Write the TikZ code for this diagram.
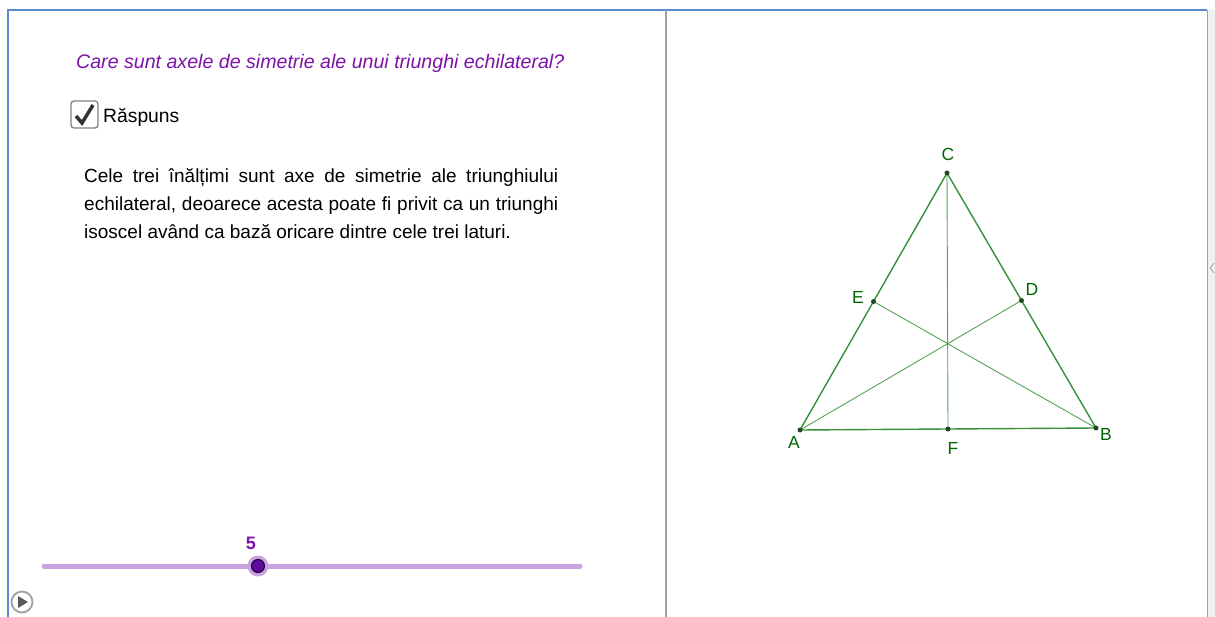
\documentclass[tikz,border=0pt]{standalone}
\usepackage{fontspec}
\setmainfont{Liberation Sans}
\usepackage{xcolor}
\usetikzlibrary{calc}
\definecolor{GGPurple}{HTML}{7D12A8}
\definecolor{GGSlider}{HTML}{C9A3DF}
\definecolor{GGKnob}{HTML}{5E0A9E}
\definecolor{GGGreen}{HTML}{006400}
\definecolor{GGLine}{HTML}{3A8F3A}
\definecolor{GGPoint}{HTML}{1E4A1E}
\definecolor{GGBlue}{HTML}{5A8AD2}
\definecolor{GGGray}{HTML}{A0A0A0}
\definecolor{GGPanel}{HTML}{F0F0F0}

\begin{document}
\begin{tikzpicture}[x=1pt,y=-1pt,
  ptlabel/.style={text=GGGreen,inner sep=0pt,font=\fontsize{17.5}{17.5}\selectfont},
  gpoint/.style={circle,fill=GGPoint,inner sep=0pt,minimum size=5pt}]
\path[use as bounding box] (0,0) rectangle (1215,617);
\fill[white] (0,0) rectangle (1215,617);
% right strip and frame
\fill[GGPanel] (1207,10) rectangle (1215,617);
\draw[GGGray,line width=1pt] (1207,10) -- (1207,617);
\draw[GGGray,line width=.8pt] (1214,263) -- (1210,268) -- (1214,273);
\draw[GGBlue,line width=2pt] (8,617) -- (8,10) -- (1207,10);
\draw[GGGray,line width=1.2pt] (666,10) -- (666,617);
% left panel
\node[anchor=base west,inner sep=0pt,text=GGPurple] (question) at (76,69)
  {\fontsize{19.6}{19.6}\selectfont\itshape Care sunt axele de simetrie ale unui triunghi echilateral?};
\draw[GGGray!80!black,line width=1.3pt,fill=white,rounded corners=3pt] (71,101) rectangle (98,128);
\draw[black!80,line width=3.5pt] (76,116) -- (82,123) -- (93,105);
\node[anchor=base west,inner sep=0pt] (answer) at (103,123)
  {\fontsize{19.3}{19.3}\selectfont Răspuns};
\node[anchor=base west,inner sep=0pt,text width=474pt,align=justify,font=\fontsize{19}{28}\selectfont] (reason) at (84,183)
  {Cele trei înălțimi sunt axe de simetrie ale triunghiului\linebreak echilateral, deoarece acesta poate fi privit ca un triunghi\linebreak isoscel având ca bază oricare dintre cele trei laturi.\par};
% slider
\coordinate (sliderL) at (44,566);
\coordinate (sliderR) at (580,566);
\draw[GGSlider,line width=5pt,line cap=round] (sliderL) -- (sliderR);
\fill[GGSlider] (258,566) circle (10.5);
\node[circle,fill=GGKnob,draw=black!60!GGKnob,line width=1.2pt,inner sep=0pt,minimum size=13pt] (knob) at (258,566) {};
\node[text=GGPurple,inner sep=0pt,font=\fontsize{18}{18}\selectfont\bfseries] (value) at (251,543) {5};
% play button
\node[circle,draw=GGGray,line width=1.8pt,inner sep=0pt,minimum size=21pt] (play) at (22,602) {};
\fill[black!65] (18,596) -- (28,602) -- (18,608) -- cycle;
% triangle
\coordinate (A) at (800,430);
\coordinate (B) at (1096,428);
\coordinate (C) at (947,173);
\coordinate (F) at ($(A)!.5!(B)$);
\coordinate (E) at ($(A)!.5!(C)$);
\coordinate (D) at ($(B)!.5!(C)$);
\draw[GGLine,line width=1.4pt] (A) -- (B) -- (C) -- cycle;
\draw[GGLine!85,line width=.9pt] (C) -- (F);
\draw[GGLine!85,line width=.9pt] (A) -- (D);
\draw[GGLine!85,line width=.9pt] (B) -- (E);
\foreach \p in {A,B,C,D,E,F}
  \node[gpoint] (\p dot) at (\p) {};
\node[ptlabel] (labA) at (794,442) {A};
\node[ptlabel] (labB) at (1106,434) {B};
\node[ptlabel] (labC) at (948,154) {C};
\node[ptlabel] (labD) at (1032,289) {D};
\node[ptlabel] (labE) at (858,297) {E};
\node[ptlabel] (labF) at (953,448) {F};
\end{tikzpicture}
\end{document}
